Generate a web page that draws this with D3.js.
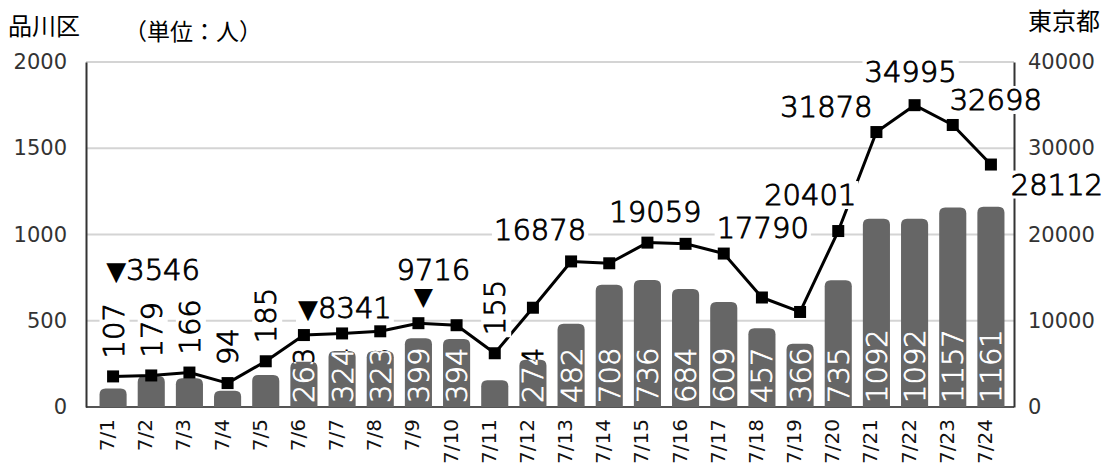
<!DOCTYPE html>
<html>
<head>
<meta charset="utf-8">
<script src="https://cdn.jsdelivr.net/npm/d3@7/dist/d3.min.js"></script>
<style>
  body { margin: 0; background: #fff; }
  svg { display: block; }
</style>
</head>
<body>
<div id="chart"></div>
<script>
// --- data ---
const days = ["7/1", "7/2", "7/3", "7/4", "7/5", "7/6", "7/7", "7/8", "7/9", "7/10", "7/11", "7/12",
    "7/13", "7/14", "7/15", "7/16", "7/17", "7/18", "7/19", "7/20", "7/21", "7/22", "7/23", "7/24"];
const shinagawa = [107, 179, 166, 94, 185, 263, 324, 323, 399, 394, 155, 274,
    482, 708, 736, 684, 609, 457, 366, 735, 1092, 1092, 1157, 1161];
const tokyo = [3546, 3657, 3994, 2772, 5302, 8341, 8529, 8777, 9716, 9482, 6231, 11511,
    16878, 16662, 19059, 18919, 17790, 12696, 11018, 20401, 31878, 34995, 32698, 28112];
const leftTicks = [0, 500, 1000, 1500, 2000];
const rightTicks = [0, 10000, 20000, 30000, 40000];

// which Tokyo values get a label, and where it sits relative to the point
// arrow: "before" puts ▼ ahead of the number, "below" puts it under the number
const tokyoNotes = [
    { day: "7/1", arrow: "before", dx: 40, dy: -96 },
    { day: "7/6", arrow: "before", dx: 41, dy: -17 },
    { day: "7/9", arrow: "below", dx: 15, dy: -43 },
    { day: "7/13", dx: -31, dy: -21 },
    { day: "7/15", dx: 8, dy: -21 },
    { day: "7/17", dx: 39, dy: -16 },
    { day: "7/20", dx: -28, dy: -26 },
    { day: "7/21", dx: -50, dy: -15 },
    { day: "7/22", dx: -4, dy: -23 },
    { day: "7/23", dx: 43, dy: -15 },
    { day: "7/24", dx: 66, dy: 30 }
];

const W = 1109, H = 466;
const plot = { left: 86, right: 1014, top: 62, bottom: 407 };
const numFont = "'DejaVu Sans', sans-serif";
const jpFont = "'Noto Sans CJK JP', sans-serif";

const svg = d3.select("#chart").append("svg")
    .attr("width", W)
    .attr("height", H)
    .attr("viewBox", `0 0 ${W} ${H}`);

const x = d3.scaleBand()
    .domain(days)
    .range([94, 1010])
    .paddingInner(0.29)
    .paddingOuter(0.145);
const yL = d3.scaleLinear().domain([0, 2000]).range([plot.bottom, plot.top]);
const yR = d3.scaleLinear().domain([0, 40000]).range([plot.bottom, plot.top]);
const cx = d => x(d) + x.bandwidth() / 2;

// gridlines
svg.append("g").selectAll("line")
    .data(leftTicks)
    .enter().append("line")
    .attr("x1", plot.left).attr("x2", plot.right)
    .attr("y1", d => yL(d)).attr("y2", d => yL(d))
    .attr("stroke", d => d === 0 ? "#555" : "#d4d4d4")
    .attr("stroke-width", 2);

// axes
const leftAxis = svg.append("g")
    .attr("transform", `translate(${plot.left},0)`)
    .call(d3.axisLeft(yL).tickValues(leftTicks).tickFormat(d3.format("d")).tickSize(0).tickPadding(19));
const rightAxis = svg.append("g")
    .attr("transform", `translate(${plot.right},0)`)
    .call(d3.axisRight(yR).tickValues(rightTicks).tickFormat(d3.format("d")).tickSize(0).tickPadding(14));
[leftAxis, rightAxis].forEach(g => {
    g.select(".domain").attr("stroke", "#333").attr("stroke-width", 2);
    g.selectAll("text")
        .attr("font-family", numFont)
        .attr("font-size", 21)
        .attr("fill", "#333");
});

const bottomAxis = svg.append("g")
    .attr("transform", `translate(0,${plot.bottom})`)
    .call(d3.axisBottom(x).tickSize(0));
bottomAxis.select(".domain").remove();
bottomAxis.selectAll("text")
    .attr("transform", "rotate(-90)")
    .attr("x", -12)
    .attr("y", 1)
    .attr("dy", null)
    .attr("text-anchor", "end")
    .attr("font-family", numFont)
    .attr("font-size", 20)
    .attr("fill", "#111");

// bars with rounded tops
function barPath(d) {
    const bx = x(d.day), bw = x.bandwidth();
    const by = yL(d.value), bh = plot.bottom - by;
    const r = Math.min(6, bh, bw / 2);
    return `M${bx},${by + bh}V${by + r}Q${bx},${by} ${bx + r},${by}` +
        `H${bx + bw - r}Q${bx + bw},${by} ${bx + bw},${by + r}V${by + bh}Z`;
}
const barData = days.map((day, i) => ({ day, value: shinagawa[i], tokyo: tokyo[i], i }));

const defs = svg.append("defs");
defs.selectAll("clipPath")
    .data(barData)
    .enter().append("clipPath")
    .attr("id", d => "bar-clip-" + d.i)
    .append("path")
    .attr("d", barPath);

svg.append("g").selectAll("path")
    .data(barData)
    .enter().append("path")
    .attr("d", barPath)
    .attr("fill", "#666");

// value text: light face thickened a little with a same-colour stroke
const labelSize = 29;
function valueText(sel, color) {
    return sel
        .attr("font-family", numFont)
        .attr("font-weight", 300)
        .attr("font-size", labelSize)
        .attr("fill", color)
        .attr("stroke", color)
        .attr("stroke-width", 0.9);
}

// Shinagawa labels: small days sit above the Tokyo point, the rest start at the bar foot
const small = d => d.value < 200;
const labelStart = d => small(d) ? yR(d.tokyo) - 18 : plot.bottom - 4;
const labelPos = d => `translate(${cx(d.day) + labelSize * 0.36},${labelStart(d)}) rotate(-90)`;

const inside = barData.filter(d => !small(d));
const insideG = svg.append("g");
// dark copy for the part that sticks out of the bar
insideG.selectAll("text.dark")
    .data(inside)
    .enter().append("text")
    .attr("class", "dark")
    .attr("transform", labelPos)
    .call(valueText, "#000")
    .text(d => d.value);
insideG.selectAll("g.light")
    .data(inside)
    .enter().append("g")
    .attr("class", "light")
    .attr("clip-path", d => `url(#bar-clip-${d.i})`)
    .append("text")
    .attr("transform", labelPos)
    .call(valueText, "#fff")
    .text(d => d.value);

// Tokyo line and markers
const line = d3.line()
    .x(d => cx(d.day))
    .y(d => yR(d.tokyo));
svg.append("path")
    .datum(barData)
    .attr("d", line)
    .attr("fill", "none")
    .attr("stroke", "#000")
    .attr("stroke-width", 3)
    .attr("stroke-linejoin", "round");
svg.append("g").selectAll("rect")
    .data(barData)
    .enter().append("rect")
    .attr("x", d => cx(d.day) - 6)
    .attr("y", d => yR(d.tokyo) - 6)
    .attr("width", 12)
    .attr("height", 12)
    .attr("fill", "#000");

// Shinagawa labels above the line, on a white patch
const outside = svg.append("g").selectAll("g")
    .data(barData.filter(small))
    .enter().append("g")
    .attr("transform", labelPos);
outside.append("text")
    .call(valueText, "#000")
    .text(d => d.value);
outside.each(function() {
    const g = d3.select(this);
    const b = g.select("text").node().getBBox();
    g.insert("rect", "text")
        .attr("x", b.x - 2).attr("y", b.y + 3)
        .attr("width", b.width + 4).attr("height", b.height - 4)
        .attr("fill", "#fff");
});

// Tokyo value labels
const notes = svg.append("g").selectAll("g")
    .data(tokyoNotes)
    .enter().append("g")
    .attr("transform", d => {
        const i = days.indexOf(d.day);
        return `translate(${cx(d.day) + d.dx},${yR(tokyo[i]) + d.dy})`;
    });
const noteText = notes.append("text")
    .attr("text-anchor", "middle")
    .call(valueText, "#000");
noteText.filter(d => d.arrow === "before")
    .append("tspan")
    .attr("font-weight", 400)
    .attr("stroke-width", 0)
    .attr("font-size", 26)
    .text("▼");
noteText.append("tspan")
    .text(d => tokyo[days.indexOf(d.day)]);
noteText.filter(d => d.arrow === "below")
    .append("tspan")
    .attr("x", -10)
    .attr("dy", 25)
    .attr("font-weight", 400)
    .attr("stroke-width", 0)
    .attr("font-size", 25)
    .text("▼");
notes.each(function() {
    const g = d3.select(this);
    const b = g.select("text").node().getBBox();
    g.insert("rect", "text")
        .attr("x", b.x - 2).attr("y", b.y + 3)
        .attr("width", b.width + 4).attr("height", b.height - 6)
        .attr("fill", "#fff");
});

// headings
svg.append("text")
    .attr("x", 8).attr("y", 35)
    .attr("font-family", jpFont).attr("font-size", 24)
    .text("品川区");
svg.append("text")
    .attr("x", 124).attr("y", 40)
    .attr("font-family", jpFont).attr("font-size", 23)
    .text("（単位：人）");
svg.append("text")
    .attr("x", 1028).attr("y", 30)
    .attr("font-family", jpFont).attr("font-size", 24)
    .text("東京都");
</script>
</body>
</html>
